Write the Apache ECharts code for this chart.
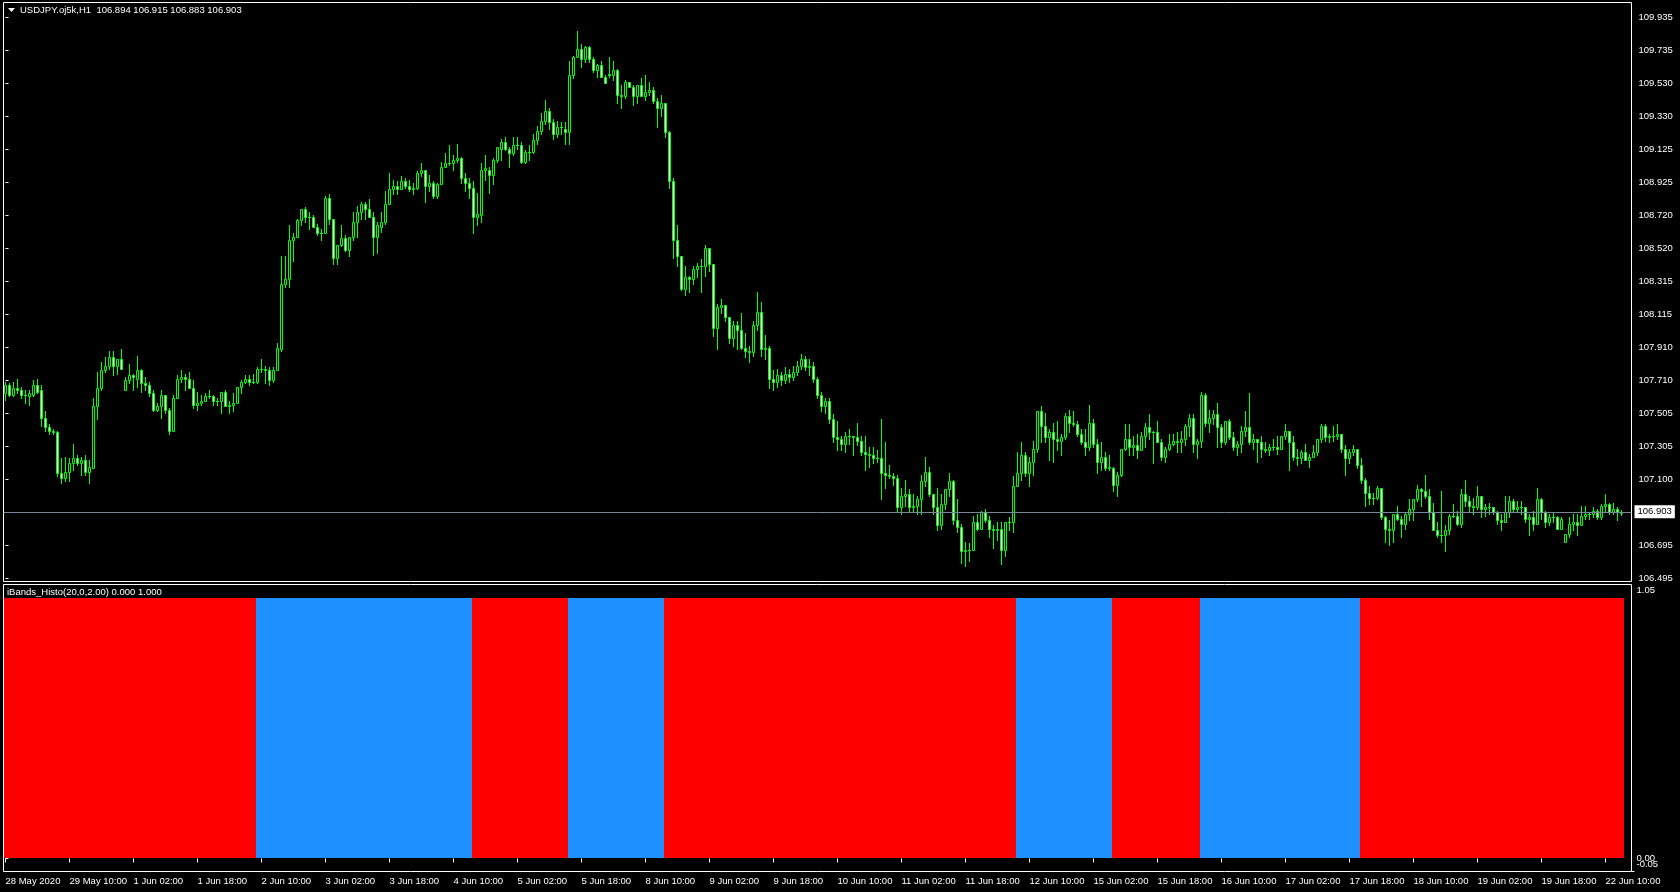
<!DOCTYPE html>
<html><head><meta charset="utf-8">
<script src="https://cdn.jsdelivr.net/npm/echarts@6/dist/echarts.min.js"></script>
<style>html,body{margin:0;padding:0;background:#000;overflow:hidden}#c{width:1680px;height:892px}</style>
</head><body><div id="c"></div>
<script>
const symbolTitle = 'USDJPY.oj5k,H1  106.894 106.915 106.883 106.903';
const indicatorTitle = 'iBands_Histo(20,0,2.00) 0.000 1.000';
const priceTicks = [106.495,106.695,107.100,107.305,107.505,107.710,107.910,108.115,108.315,108.520,108.720,108.925,109.125,109.330,109.530,109.735,109.935];
const histoTicks = [0, 1.05];
const histoMinTick = [-0.05];
const timeLabels = ['28 May 2020','29 May 10:00','1 Jun 02:00','1 Jun 18:00','2 Jun 10:00','3 Jun 02:00','3 Jun 18:00','4 Jun 10:00','5 Jun 02:00','5 Jun 18:00','8 Jun 10:00','9 Jun 02:00','9 Jun 18:00','10 Jun 10:00','11 Jun 02:00','11 Jun 18:00','12 Jun 10:00','15 Jun 02:00','15 Jun 18:00','16 Jun 10:00','17 Jun 02:00','17 Jun 18:00','18 Jun 10:00','19 Jun 02:00','19 Jun 18:00','22 Jun 10:00'];
const barsPerTimeLabel = 16;
// H1 candles: [open, high, low, close]
const candles = [
[107.63,107.70,107.59,107.68],[107.68,107.69,107.61,107.62],[107.62,107.70,107.61,107.66],[107.66,107.72,107.63,107.65],[107.65,107.67,107.60,107.62],
[107.62,107.65,107.57,107.62],[107.61,107.65,107.56,107.63],[107.62,107.71,107.61,107.68],[107.68,107.72,107.63,107.64],[107.65,107.68,107.43,107.48],
[107.48,107.52,107.40,107.42],[107.42,107.44,107.38,107.40],[107.40,107.41,107.38,107.39],[107.39,107.40,107.12,107.14],[107.14,107.23,107.08,107.11],
[107.11,107.24,107.09,107.15],[107.15,107.23,107.09,107.20],[107.20,107.32,107.16,107.23],[107.23,107.25,107.19,107.20],[107.20,107.24,107.13,107.22],
[107.22,107.25,107.13,107.15],[107.15,107.22,107.08,107.18],[107.17,107.60,107.17,107.55],[107.55,107.76,107.47,107.66],[107.66,107.82,107.65,107.77],
[107.77,107.85,107.76,107.80],[107.80,107.89,107.78,107.85],[107.85,107.89,107.74,107.80],[107.80,107.84,107.75,107.84],[107.84,107.90,107.78,107.78],
[107.65,107.73,107.65,107.71],[107.71,107.81,107.69,107.74],[107.74,107.75,107.65,107.73],[107.72,107.86,107.67,107.77],[107.77,107.78,107.64,107.69],
[107.69,107.73,107.65,107.68],[107.68,107.70,107.61,107.63],[107.63,107.65,107.52,107.53],[107.53,107.57,107.52,107.55],[107.55,107.65,107.48,107.62],
[107.62,107.62,107.51,107.53],[107.53,107.54,107.38,107.40],[107.40,107.62,107.40,107.60],[107.60,107.74,107.60,107.72],[107.72,107.77,107.70,107.73],
[107.73,107.75,107.65,107.72],[107.72,107.76,107.66,107.66],[107.66,107.71,107.54,107.56],[107.56,107.64,107.53,107.57],[107.57,107.62,107.56,107.58],
[107.58,107.63,107.58,107.61],[107.61,107.65,107.60,107.61],[107.61,107.62,107.56,107.58],[107.58,107.60,107.56,107.58],[107.58,107.64,107.51,107.64],
[107.64,107.65,107.55,107.55],[107.55,107.58,107.51,107.56],[107.56,107.63,107.52,107.57],[107.57,107.67,107.57,107.67],[107.67,107.71,107.63,107.70],
[107.70,107.74,107.69,107.72],[107.72,107.74,107.68,107.70],[107.70,107.75,107.69,107.70],[107.70,107.79,107.69,107.78],[107.78,107.84,107.76,107.78],
[107.78,107.80,107.69,107.77],[107.77,107.79,107.68,107.71],[107.71,107.79,107.70,107.77],[107.77,107.94,107.77,107.91],[107.90,108.47,107.89,108.30],
[108.30,108.47,108.28,108.33],[108.33,108.66,108.28,108.57],[108.57,108.61,108.44,108.59],[108.59,108.70,108.59,108.69],[108.69,108.76,108.66,108.76],
[108.76,108.77,108.68,108.71],[108.71,108.74,108.64,108.71],[108.71,108.72,108.65,108.65],[108.65,108.67,108.60,108.61],[108.61,108.64,108.57,108.61],
[108.61,108.84,108.61,108.83],[108.83,108.85,108.67,108.70],[108.70,108.70,108.42,108.46],[108.46,108.54,108.42,108.54],[108.54,108.66,108.53,108.58],
[108.58,108.60,108.50,108.51],[108.51,108.59,108.47,108.59],[108.59,108.74,108.57,108.68],[108.68,108.78,108.59,108.74],[108.74,108.80,108.70,108.79],
[108.79,108.80,108.70,108.76],[108.76,108.82,108.71,108.71],[108.71,108.74,108.48,108.59],[108.59,108.68,108.49,108.66],[108.65,108.74,108.62,108.68],
[108.68,108.87,108.67,108.79],[108.79,108.98,108.79,108.88],[108.88,108.94,108.85,108.90],[108.90,108.93,108.85,108.88],[108.88,108.96,108.88,108.93],
[108.93,108.95,108.89,108.90],[108.90,108.94,108.87,108.88],[108.88,108.92,108.85,108.89],[108.89,108.99,108.88,108.98],[108.98,109.04,108.96,109.00],
[109.00,109.00,108.80,108.90],[108.90,108.97,108.87,108.92],[108.92,108.93,108.83,108.84],[108.84,108.92,108.83,108.91],[108.91,109.05,108.91,109.02],
[109.02,109.10,109.02,109.04],[109.04,109.15,109.03,109.04],[109.04,109.09,109.00,109.06],[109.06,109.16,109.05,109.07],[109.07,109.08,108.92,108.95],
[108.95,108.98,108.87,108.92],[108.92,108.95,108.83,108.89],[108.89,108.93,108.61,108.71],[108.71,108.86,108.66,108.73],[108.72,109.04,108.68,109.00],
[109.00,109.09,108.94,109.01],[109.00,109.02,108.86,108.97],[108.97,109.07,108.91,109.06],[109.06,109.14,109.05,109.14],[109.13,109.19,109.06,109.17],
[109.17,109.20,109.12,109.13],[109.13,109.14,109.02,109.10],[109.10,109.20,109.09,109.15],[109.15,109.20,109.13,109.15],[109.15,109.17,109.04,109.05],
[109.05,109.12,109.04,109.11],[109.11,109.15,109.06,109.11],[109.11,109.22,109.10,109.18],[109.18,109.27,109.16,109.24],[109.24,109.35,109.22,109.30],
[109.30,109.43,109.28,109.36],[109.36,109.38,109.25,109.29],[109.29,109.31,109.19,109.22],[109.22,109.30,109.20,109.26],[109.26,109.29,109.22,109.26],
[109.25,109.29,109.16,109.23],[109.23,109.67,109.16,109.58],[109.58,109.70,109.56,109.69],[109.69,109.85,109.69,109.74],[109.74,109.77,109.63,109.68],
[109.68,109.76,109.66,109.75],[109.75,109.76,109.66,109.68],[109.68,109.69,109.60,109.61],[109.61,109.65,109.57,109.64],[109.64,109.67,109.57,109.57],
[109.57,109.58,109.53,109.53],[109.59,109.69,109.57,109.58],[109.58,109.67,109.55,109.61],[109.61,109.62,109.41,109.46],[109.46,109.52,109.38,109.45],
[109.45,109.55,109.44,109.54],[109.54,109.54,109.51,109.51],[109.51,109.52,109.40,109.45],[109.45,109.52,109.41,109.52],[109.52,109.56,109.45,109.45],
[109.45,109.58,109.43,109.48],[109.48,109.54,109.46,109.49],[109.49,109.51,109.41,109.42],[109.42,109.44,109.26,109.38],[109.38,109.46,109.33,109.41],
[109.41,109.41,109.20,109.23],[109.23,109.24,108.89,108.93],[108.93,108.95,108.46,108.57],[108.57,108.66,108.41,108.47],[108.47,108.47,108.26,108.27],
[108.27,108.41,108.23,108.34],[108.34,108.35,108.25,108.33],[108.33,108.41,108.30,108.39],[108.39,108.43,108.34,108.41],[108.41,108.45,108.25,108.41],
[108.41,108.54,108.35,108.52],[108.52,108.52,108.38,108.42],[108.42,108.42,107.98,108.03],[108.03,108.18,107.90,108.16],[108.16,108.21,108.12,108.17],
[108.17,108.17,108.07,108.10],[108.10,108.10,107.94,107.97],[107.97,108.07,107.92,108.05],[108.05,108.07,107.90,108.02],[108.02,108.12,107.90,107.91],
[107.91,108.00,107.85,107.89],[107.89,107.92,107.82,107.88],[107.88,108.07,107.86,108.05],[108.05,108.25,108.02,108.13],[108.13,108.19,107.86,107.90],
[107.90,107.99,107.84,107.91],[107.91,107.92,107.66,107.72],[107.72,107.77,107.65,107.70],[107.70,107.78,107.67,107.74],[107.74,107.76,107.68,107.71],
[107.71,107.79,107.69,107.75],[107.75,107.78,107.70,107.73],[107.73,107.80,107.71,107.76],[107.76,107.83,107.74,107.80],[107.80,107.87,107.78,107.84],
[107.84,107.86,107.77,107.79],[107.79,107.84,107.74,107.80],[107.80,107.82,107.70,107.72],[107.72,107.73,107.60,107.62],[107.62,107.64,107.52,107.55],
[107.55,107.60,107.51,107.58],[107.58,107.60,107.45,107.47],[107.47,107.50,107.33,107.36],[107.36,107.46,107.28,107.35],[107.35,107.37,107.28,107.32],
[107.32,107.39,107.27,107.37],[107.37,107.41,107.32,107.37],[107.37,107.37,107.25,107.36],[107.36,107.45,107.31,107.34],[107.34,107.37,107.25,107.27],
[107.27,107.37,107.16,107.26],[107.26,107.30,107.18,107.25],[107.25,107.30,107.20,107.23],[107.23,107.28,107.21,107.23],[107.23,107.47,106.98,107.14],
[107.14,107.33,107.05,107.13],[107.13,107.19,107.11,107.12],[107.12,107.14,107.07,107.11],[107.11,107.13,106.91,106.93],[106.93,107.05,106.89,107.00],
[107.00,107.10,106.94,107.01],[107.01,107.04,106.91,106.93],[106.93,107.01,106.91,106.94],[106.94,107.00,106.89,106.98],[106.98,107.13,106.89,107.09],
[107.09,107.24,107.06,107.15],[107.15,107.18,107.00,107.01],[107.01,107.01,106.89,106.93],[106.93,107.05,106.79,106.82],[106.82,107.01,106.80,106.95],
[106.95,107.04,106.92,107.04],[107.04,107.14,107.00,107.09],[107.09,107.10,106.83,106.85],[106.85,106.98,106.78,106.81],[106.81,106.83,106.59,106.66],
[106.66,106.72,106.57,106.67],[106.67,106.71,106.60,106.67],[106.67,106.88,106.67,106.84],[106.84,106.89,106.79,106.80],[106.80,106.91,106.80,106.90],
[106.90,106.92,106.84,106.85],[106.85,106.88,106.75,106.80],[106.80,106.82,106.68,106.79],[106.79,106.84,106.73,106.80],[106.80,106.84,106.58,106.67],
[106.67,106.84,106.63,106.84],[106.84,106.87,106.79,106.84],[106.84,107.12,106.78,107.06],[107.06,107.27,107.06,107.14],[107.14,107.33,107.10,107.25],
[107.25,107.27,107.12,107.14],[107.14,107.24,107.06,107.21],[107.21,107.34,107.13,107.29],[107.29,107.52,107.27,107.52],[107.52,107.55,107.33,107.43],
[107.43,107.51,107.33,107.36],[107.36,107.41,107.22,107.39],[107.39,107.45,107.21,107.35],[107.35,107.46,107.28,107.34],[107.34,107.38,107.25,107.36],
[107.36,107.51,107.35,107.49],[107.49,107.53,107.39,107.45],[107.45,107.52,107.43,107.44],[107.44,107.46,107.37,107.38],[107.38,107.41,107.32,107.33],
[107.33,107.41,107.25,107.30],[107.30,107.56,107.28,107.45],[107.45,107.47,107.30,107.32],[107.32,107.35,107.14,107.21],[107.21,107.33,107.16,107.24],
[107.24,107.27,107.16,107.17],[107.17,107.25,107.16,107.18],[107.17,107.18,107.03,107.07],[107.07,107.15,107.00,107.13],[107.13,107.29,107.12,107.29],
[107.29,107.44,107.28,107.35],[107.35,107.44,107.25,107.30],[107.30,107.37,107.25,107.31],[107.31,107.38,107.23,107.28],[107.28,107.39,107.28,107.37],
[107.37,107.45,107.30,107.42],[107.42,107.50,107.35,107.39],[107.39,107.40,107.20,107.39],[107.39,107.46,107.33,107.33],[107.33,107.35,107.22,107.24],
[107.24,107.30,107.21,107.29],[107.29,107.38,107.28,107.32],[107.32,107.38,107.31,107.34],[107.34,107.39,107.27,107.33],[107.33,107.40,107.27,107.35],
[107.35,107.44,107.31,107.43],[107.43,107.50,107.37,107.48],[107.48,107.50,107.27,107.32],[107.32,107.35,107.23,107.34],[107.34,107.64,107.30,107.62],
[107.62,107.63,107.43,107.45],[107.45,107.53,107.39,107.48],[107.48,107.53,107.44,107.50],[107.50,107.57,107.30,107.42],[107.42,107.44,107.30,107.33],
[107.33,107.46,107.32,107.46],[107.46,107.47,107.35,107.36],[107.36,107.39,107.28,107.30],[107.30,107.34,107.25,107.32],[107.32,107.43,107.27,107.40],
[107.40,107.52,107.37,107.42],[107.42,107.63,107.32,107.33],[107.33,107.38,107.29,107.35],[107.35,107.35,107.21,107.33],[107.33,107.37,107.24,107.29],
[107.29,107.33,107.27,107.28],[107.28,107.32,107.25,107.30],[107.30,107.35,107.28,107.30],[107.30,107.37,107.26,107.29],[107.29,107.37,107.29,107.37],
[107.37,107.44,107.35,107.40],[107.40,107.40,107.16,107.33],[107.33,107.37,107.22,107.24],[107.24,107.29,107.19,107.23],[107.23,107.28,107.20,107.27],
[107.27,107.32,107.22,107.22],[107.22,107.26,107.18,107.24],[107.24,107.31,107.24,107.27],[107.27,107.35,107.25,107.35],[107.35,107.44,107.33,107.43],
[107.43,107.44,107.34,107.36],[107.36,107.38,107.33,107.37],[107.37,107.43,107.34,107.37],[107.37,107.44,107.35,107.38],[107.38,107.38,107.27,107.29],
[107.29,107.31,107.13,107.23],[107.23,107.29,107.20,107.27],[107.27,107.31,107.25,107.29],[107.29,107.29,107.17,107.19],[107.19,107.23,107.08,107.10],
[107.10,107.11,106.94,107.02],[107.02,107.06,106.95,106.99],[106.99,107.02,106.95,106.99],[106.99,107.06,106.98,107.05],[107.05,107.05,106.86,106.87],
[106.87,106.88,106.72,106.80],[106.80,106.85,106.70,106.79],[106.79,106.89,106.72,106.89],[106.89,106.94,106.85,106.86],[106.86,106.88,106.75,106.83],
[106.83,106.90,106.80,106.89],[106.89,106.98,106.85,106.92],[106.92,106.98,106.85,106.98],[106.98,107.07,106.97,107.04],[107.04,107.05,106.94,107.03],
[107.03,107.13,106.99,107.00],[107.00,107.04,106.86,106.90],[106.90,106.96,106.79,106.79],[106.79,106.84,106.75,106.76],[106.76,107.03,106.72,106.76],
[106.76,106.82,106.66,106.79],[106.79,106.89,106.77,106.88],[106.88,106.95,106.87,106.88],[106.88,106.91,106.82,106.83],[106.83,107.04,106.81,107.01],
[107.01,107.10,106.94,106.97],[106.97,107.00,106.90,106.94],[106.94,106.99,106.89,106.93],[106.93,107.06,106.92,107.00],[107.00,107.00,106.87,106.92],
[106.92,106.95,106.88,106.93],[106.93,106.96,106.89,106.93],[106.93,106.93,106.89,106.90],[106.90,106.91,106.83,106.85],[106.85,106.89,106.79,106.84],
[106.84,107.00,106.84,106.90],[106.90,107.00,106.87,106.97],[106.97,106.98,106.90,106.92],[106.92,106.97,106.90,106.93],[106.93,106.97,106.89,106.93],
[106.93,106.93,106.84,106.86],[106.86,106.89,106.76,106.87],[106.87,106.91,106.79,106.83],[106.83,107.05,106.83,106.98],[106.98,106.99,106.86,106.90],
[106.90,106.91,106.81,106.84],[106.84,106.89,106.82,106.87],[106.87,106.90,106.84,106.87],[106.87,106.88,106.80,106.80],[106.80,106.87,106.80,106.86],
[106.72,106.77,106.72,106.77],[106.77,106.87,106.75,106.83],[106.83,106.89,106.79,106.84],[106.84,106.89,106.76,106.82],[106.82,106.94,106.82,106.88],
[106.88,106.94,106.86,106.89],[106.89,106.90,106.86,106.89],[106.89,106.93,106.87,106.91],[106.91,106.92,106.86,106.87],[106.87,106.95,106.86,106.94],
[106.94,107.01,106.91,106.95],[106.95,106.96,106.89,106.90],[106.90,106.96,106.89,106.92],[106.92,106.93,106.85,106.90],[106.894,106.915,106.883,106.903]
];
// iBands_Histo: value 1 in every bar, colour by state, run-length coded
const histoLevel = 1;
const histoRunLengths = [63,54,24,24,88,24,22,40,66];
const histoRunColors = ['#ff0000','#1e90ff','#ff0000','#1e90ff','#ff0000','#1e90ff','#ff0000','#1e90ff','#ff0000'];

const FONT = '"Liberation Sans", Arial, sans-serif';
const FS = 9.5;
const LIME = '#00ff00';

const candleData = candles.map((d, i) => [i, d[0], d[1], d[2], d[3]]);
const histoData = [];
let idx = 0;
histoRunLengths.forEach((n, r) => { for (let k = 0; k < n; k++) { histoData.push({ value: [idx, histoLevel], color: histoRunColors[r] }); idx++; } });
const timeTickIdx = timeLabels.map((_, k) => k * barsPerTimeLabel);
const lastClose = candles[candles.length - 1][3];

const chart = echarts.init(document.getElementById('c'), null, { renderer: 'canvas' });

function crisp(v) { return Math.round(v - 0.5) + 0.5; }

const lblBase = { color: '#fff', fontFamily: FONT, fontSize: FS };

chart.setOption({
  animation: false,
  backgroundColor: '#000',
  grid: [
    { left: 3.5, top: 2.5, width: 1628, height: 579, show: true, borderColor: '#ffffff', borderWidth: 1, backgroundColor: '#000' },
    { left: 3.5, top: 584.5, width: 1628, height: 287, show: true, borderColor: '#ffffff', borderWidth: 1, backgroundColor: '#000' }
  ],
  xAxis: [
    { type: 'value', gridIndex: 0, min: -0.5, max: 406.5, show: false },
    { type: 'value', gridIndex: 1, min: -0.5, max: 406.5, position: 'bottom',
      axisLine: { show: false }, splitLine: { show: false },
      axisTick: { show: true, customValues: timeTickIdx, length: 4, lineStyle: { color: '#fff' } },
      axisLabel: { customValues: timeTickIdx, formatter: v => timeLabels[Math.round(v / barsPerTimeLabel)], align: 'left',
        color: '#fff', fontFamily: FONT, fontSize: FS, margin: 5, hideOverlap: false } }
  ],
  yAxis: [
    { type: 'value', gridIndex: 0, position: 'right', min: 106.4757, max: 110.0257, scale: true,
      axisLine: { show: false }, splitLine: { show: false },
      axisTick: { show: true, customValues: priceTicks, length: 3, lineStyle: { color: '#fff' } },
      axisLabel: { customValues: priceTicks, formatter: v => v.toFixed(3), color: '#fff', fontFamily: FONT, fontSize: FS, margin: 7, hideOverlap: false } },
    { type: 'value', gridIndex: 1, position: 'right', min: -0.05, max: 1.05,
      axisLine: { show: false }, splitLine: { show: false },
      axisTick: { show: true, customValues: histoTicks, length: 3, lineStyle: { color: '#fff' } },
      axisLabel: { customValues: histoTicks, margin: 5, color: '#fff', fontFamily: FONT, fontSize: FS,
        showMinLabel: true, showMaxLabel: true, hideOverlap: false,
        formatter: v => v > 1 ? '{t|' + v.toFixed(2) + '}' : '{m|' + v.toFixed(2) + '}',
        rich: { t: Object.assign({ padding: [12, 0, 0, 0] }, lblBase), m: Object.assign({}, lblBase) } } },
    { type: 'value', gridIndex: 1, position: 'right', min: -0.05, max: 1.05,
      axisLine: { show: false }, splitLine: { show: false },
      axisTick: { show: true, customValues: histoMinTick, length: 3, lineStyle: { color: '#fff' } },
      axisLabel: { customValues: histoMinTick, margin: 5, color: '#fff', fontFamily: FONT, fontSize: FS,
        showMinLabel: true, hideOverlap: false,
        formatter: v => '{b|' + v.toFixed(2) + '}',
        rich: { b: Object.assign({ padding: [0, 0, 14, 0] }, lblBase) } } }
  ],
  graphic: [
    { type: 'polygon', shape: { points: [[8, 8], [15, 8], [11.5, 12]] }, style: { fill: '#fff' }, z: 50 },
    { type: 'text', left: 20, top: 5, style: { text: symbolTitle, fill: '#fff', font: FS + 'px ' + FONT }, z: 50 },
    { type: 'text', left: 7, top: 587, style: { text: indicatorTitle, fill: '#fff', font: FS + 'px ' + FONT }, z: 50 }
  ],
  series: [
    { type: 'custom', name: 'USDJPY', xAxisIndex: 0, yAxisIndex: 0, data: candleData,
      encode: { x: 0, y: [1, 2, 3, 4] }, clip: true,
      renderItem: (params, api) => {
        const i = api.value(0), o = api.value(1), h = api.value(2), l = api.value(3), c = api.value(4);
        const po = api.coord([i, o]), ph = api.coord([i, h]), pl = api.coord([i, l]), pc = api.coord([i, c]);
        const x = crisp(po[0]);
        const yT = Math.round(Math.min(po[1], pc[1])), yB = Math.round(Math.max(po[1], pc[1]));
        const children = [
          { type: 'line', shape: { x1: x, y1: Math.round(ph[1]), x2: x, y2: Math.round(pl[1]) + 1 }, style: { stroke: LIME, lineWidth: 1 } }
        ];
        if (yB - yT < 1) {
          children.push({ type: 'line', shape: { x1: x - 1.5, y1: yT + 0.5, x2: x + 1.5, y2: yT + 0.5 }, style: { stroke: LIME, lineWidth: 1 } });
        } else {
          children.push({ type: 'rect', shape: { x: x - 1, y: yT + 0.5, width: 2, height: yB - yT }, style: { fill: c >= o ? '#000' : '#fff', stroke: LIME, lineWidth: 1 } });
        }
        return { type: 'group', children };
      },
      markLine: { silent: true, symbol: ['none', 'none'], animation: false, precision: 3,
        lineStyle: { color: '#778899', width: 1, type: 'solid' },
        label: { show: true, position: 'end', distance: 3, formatter: () => lastClose.toFixed(3), backgroundColor: '#fff', color: '#000', padding: [2, 3, 1, 3], fontFamily: FONT, fontSize: FS },
        data: [{ yAxis: lastClose }] } },
    { type: 'custom', name: 'iBands_Histo', xAxisIndex: 1, yAxisIndex: 1, data: histoData,
      encode: { x: 0, y: 1 },
      renderItem: (params, api) => {
        const i = api.value(0), v = api.value(1);
        const p0 = api.coord([i - 0.5, v]), p1 = api.coord([i + 0.5, 0]);
        const x0 = Math.round(p0[0]), x1 = Math.round(p1[0]);
        const y0 = Math.round(p0[1]), y1 = Math.round(p1[1]);
        return { type: 'rect', shape: { x: x0, y: y0, width: x1 - x0, height: y1 - y0 }, style: { fill: histoData[params.dataIndex].color } };
      } }
  ]
});
</script></body></html>
